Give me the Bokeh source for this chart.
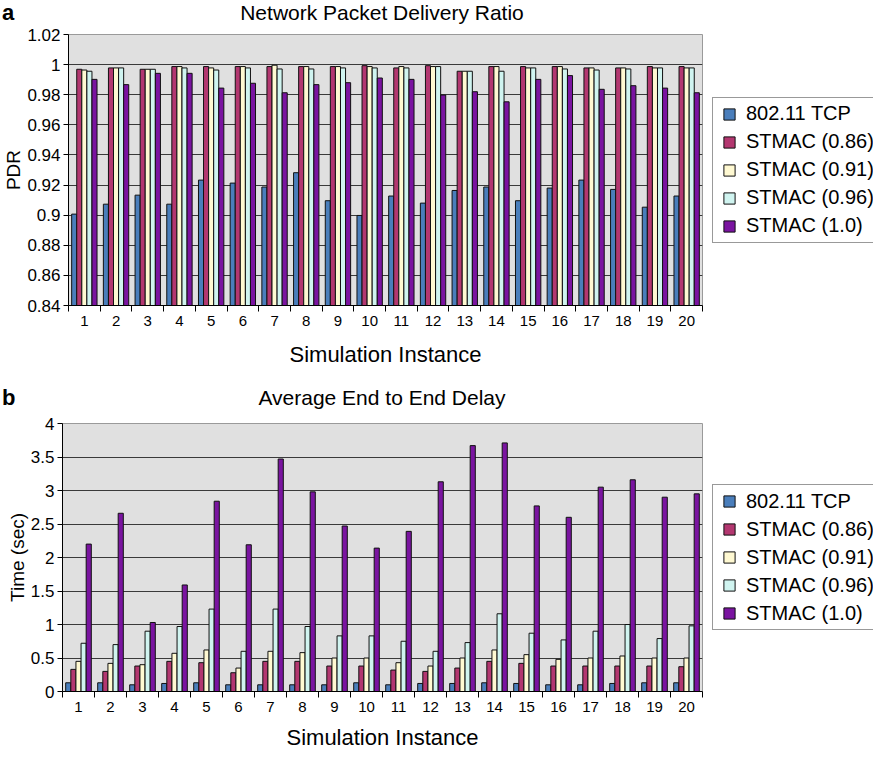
from bokeh.plotting import figure
from bokeh.models import Range1d, FixedTicker, Legend, LegendItem, ColumnDataSource, Div
from bokeh.layouts import column, row
from bokeh.embed import file_html
from bokeh.resources import INLINE

FONT = "Liberation Sans"

instances = [1, 2, 3, 4, 5, 6, 7, 8, 9, 10, 11, 12, 13, 14, 15, 16, 17, 18, 19, 20]
instance_labels = [str(i) for i in instances]
series_names = ["802.11 TCP", "STMAC (0.86)", "STMAC (0.91)", "STMAC (0.96)", "STMAC (1.0)"]
colors = ["#4A7EBB", "#B33770", "#FFF9D2", "#D0F4F0", "#7A14A0"]

# Chart a: Network Packet Delivery Ratio
pdr_tcp = [0.9007, 0.9073, 0.9133, 0.9073, 0.9233, 0.9213, 0.9187, 0.9282, 0.9096, 0.8998,
           0.9127, 0.9080, 0.9164, 0.9187, 0.9096, 0.9180, 0.9233, 0.9171, 0.9053, 0.9127]
pdr_086 = [0.9969, 0.9978, 0.9969, 0.9987, 0.9987, 0.9987, 0.9987, 0.9987, 0.9987, 0.9993,
           0.9978, 0.9993, 0.9956, 0.9987, 0.9987, 0.9987, 0.9978, 0.9978, 0.9987, 0.9987]
pdr_091 = [0.9964, 0.9978, 0.9969, 0.9987, 0.9978, 0.9987, 0.9996, 0.9987, 0.9987, 0.9987,
           0.9987, 0.9987, 0.9956, 0.9987, 0.9978, 0.9987, 0.9978, 0.9978, 0.9978, 0.9978]
pdr_096 = [0.9956, 0.9978, 0.9969, 0.9978, 0.9964, 0.9978, 0.9971, 0.9971, 0.9978, 0.9978,
           0.9978, 0.9987, 0.9956, 0.9956, 0.9978, 0.9971, 0.9964, 0.9971, 0.9978, 0.9978]
pdr_100 = [0.9902, 0.9867, 0.9942, 0.9942, 0.9844, 0.9876, 0.9813, 0.9867, 0.9880, 0.9911,
           0.9902, 0.9798, 0.9820, 0.9753, 0.9902, 0.9927, 0.9836, 0.9860, 0.9844, 0.9813]
pdr_ticks = [0.84, 0.86, 0.88, 0.90, 0.92, 0.94, 0.96, 0.98, 1.00, 1.02]
pdr_tick_labels = ["0.84", "0.86", "0.88", "0.9", "0.92", "0.94", "0.96", "0.98", "1", "1.02"]

# Chart b: Average End to End Delay
delay_tcp = [0.13, 0.13, 0.10, 0.12, 0.13, 0.10, 0.10, 0.10, 0.10, 0.13,
             0.10, 0.12, 0.12, 0.13, 0.12, 0.10, 0.10, 0.12, 0.13, 0.13]
delay_086 = [0.33, 0.30, 0.38, 0.45, 0.43, 0.28, 0.45, 0.45, 0.38, 0.38,
             0.32, 0.30, 0.35, 0.45, 0.42, 0.38, 0.38, 0.38, 0.38, 0.37]
delay_091 = [0.45, 0.42, 0.40, 0.57, 0.62, 0.35, 0.60, 0.58, 0.50, 0.50,
             0.43, 0.38, 0.50, 0.62, 0.55, 0.48, 0.50, 0.53, 0.50, 0.50]
delay_096 = [0.72, 0.70, 0.90, 0.97, 1.23, 0.60, 1.23, 0.97, 0.83, 0.83,
             0.75, 0.60, 0.73, 1.16, 0.87, 0.77, 0.90, 1.00, 0.79, 0.98]
delay_100 = [2.20, 2.66, 1.03, 1.59, 2.84, 2.19, 3.47, 2.98, 2.47, 2.14,
             2.39, 3.13, 3.67, 3.71, 2.77, 2.60, 3.05, 3.16, 2.90, 2.95]
delay_ticks = [0, 0.5, 1, 1.5, 2, 2.5, 3, 3.5, 4]
delay_tick_labels = ["0", "0.5", "1", "1.5", "2", "2.5", "3", "3.5", "4"]

PAGE_W = 873
CHART_W = 704
LEG_W = PAGE_W - CHART_W
BAR_W = 0.16
OFFSETS = [-0.32, -0.16, 0.0, 0.16, 0.32]


def header(panel, title, height, top):
    html = (
        f'<div style="position:relative;width:{PAGE_W}px;height:{height}px;'
        f'font-family:\'Liberation Sans\',Arial,sans-serif;color:black;">'
        f'<span style="position:absolute;left:2px;top:{top}px;font-size:22px;'
        f'font-weight:bold;line-height:26px;">{panel}</span>'
        f'<span style="position:absolute;left:62px;width:640px;top:{top}px;'
        f'text-align:center;font-size:21px;line-height:26px;">{title}</span></div>'
    )
    return Div(text=html, width=PAGE_W, height=height, margin=(0, 0, 0, 0))


def make_sources(series):
    return [ColumnDataSource(dict(x=[i + off for i in instances], top=vals))
            for vals, off in zip(series, OFFSETS)]


def make_chart(ylabel, sources, ticks, tick_labels, fig_h, top_b, bottom_b, xlabel_standoff):
    ymin, ymax = ticks[0], ticks[-1]
    p = figure(width=CHART_W, height=fig_h,
               x_range=Range1d(0.5, 20.5), y_range=Range1d(ymin, ymax),
               output_backend="svg", toolbar_location=None,
               min_border_left=62, min_border_right=2,
               min_border_top=top_b, min_border_bottom=bottom_b)
    p.background_fill_color = "#E0E0E0"
    p.border_fill_color = "white"
    p.outline_line_color = "#9A9A9A"
    p.outline_line_width = 1

    for src, col in zip(sources, colors):
        p.vbar(x="x", top="top", bottom=ymin, width=BAR_W, source=src,
               fill_color=col, line_color="#111111", line_width=1)

    # grid
    p.xgrid.visible = False
    p.ygrid.ticker = FixedTicker(ticks=ticks)
    p.ygrid.grid_line_color = "#3A3A3A"
    p.ygrid.grid_line_width = 1

    # y axis
    ya = p.yaxis[0]
    ya.ticker = FixedTicker(ticks=ticks)
    ya.major_label_overrides = {t: l for t, l in zip(ticks, tick_labels)}
    ya.major_label_text_font = FONT
    ya.major_label_text_font_size = "17px"
    ya.major_label_text_color = "black"
    ya.axis_label = ylabel
    ya.axis_label_text_font = FONT
    ya.axis_label_text_font_size = "19px"
    ya.axis_label_text_font_style = "normal"
    ya.axis_label_text_color = "black"
    ya.axis_label_standoff = 0
    ya.major_tick_out = 5
    ya.major_tick_in = 0
    ya.minor_tick_line_color = None
    ya.axis_line_color = "black"
    ya.major_tick_line_color = "black"
    ya.major_label_standoff = 3

    # x axis
    xa = p.xaxis[0]
    bounds = [i - 0.5 for i in instances] + [instances[-1] + 0.5]
    xa.ticker = FixedTicker(ticks=instances, minor_ticks=bounds)
    xa.major_label_overrides = {i: l for i, l in zip(instances, instance_labels)}
    xa.major_tick_line_color = None
    xa.major_tick_out = 5
    xa.major_tick_in = 0
    xa.minor_tick_line_color = "black"
    xa.minor_tick_out = 6
    xa.minor_tick_in = 0
    xa.major_label_text_font = FONT
    xa.major_label_text_font_size = "15px"
    xa.major_label_text_color = "black"
    xa.major_label_standoff = 4
    xa.axis_label = "Simulation Instance"
    xa.axis_label_text_font = FONT
    xa.axis_label_text_font_size = "22px"
    xa.axis_label_text_font_style = "normal"
    xa.axis_label_text_color = "black"
    xa.axis_label_standoff = xlabel_standoff
    xa.axis_line_color = "black"
    return p


def make_legend(sources, fig_h, top_b, bottom_b):
    # legend panel; its renderers share the chart data but lie outside the view
    lp = figure(width=LEG_W, height=fig_h, x_range=Range1d(-3, -2), y_range=Range1d(0, 1),
                output_backend="svg", toolbar_location=None,
                min_border_left=0, min_border_right=0,
                min_border_top=top_b, min_border_bottom=bottom_b)
    lp.axis.visible = False
    lp.grid.visible = False
    lp.outline_line_color = None
    lp.background_fill_color = "white"
    lp.border_fill_color = "white"
    items = []
    for name, src, col in zip(series_names, sources, colors):
        r = lp.scatter(x="x", y="top", marker="square", size=12, source=src,
                       fill_color=col, line_color="#111111", line_width=1)
        items.append(LegendItem(label=name, renderers=[r]))
    legend = Legend(items=items, location="left")
    legend.label_text_font = FONT
    legend.label_text_font_size = "20px"
    legend.label_text_color = "black"
    legend.label_height = 28
    legend.label_standoff = 3
    legend.glyph_width = 28
    legend.glyph_height = 28
    legend.spacing = 0
    legend.padding = 2
    legend.margin = 8
    legend.border_line_color = "#333333"
    legend.border_line_width = 1
    legend.background_fill_color = "white"
    legend.background_fill_alpha = 1
    lp.add_layout(legend)
    return lp


src_a = make_sources([pdr_tcp, pdr_086, pdr_091, pdr_096, pdr_100])
src_b = make_sources([delay_tcp, delay_086, delay_091, delay_096, delay_100])

head_a = header("a", "Network Packet Delivery Ratio", 26, 0)
top = make_chart("PDR", src_a, pdr_ticks, pdr_tick_labels, 349, 8, 70, 13)
leg_a = make_legend(src_a, 349, 8, 70)
head_b = header("b", "Average End to End Delay", 38, 10)
bottom = make_chart("Time (sec)", src_b, delay_ticks, delay_tick_labels, 340, 10, 62, 10)
leg_b = make_legend(src_b, 340, 10, 62)

layout = column(head_a, row(top, leg_a, spacing=0), head_b, row(bottom, leg_b, spacing=0), spacing=0)
open("out.html", "w").write(file_html(layout, INLINE))
